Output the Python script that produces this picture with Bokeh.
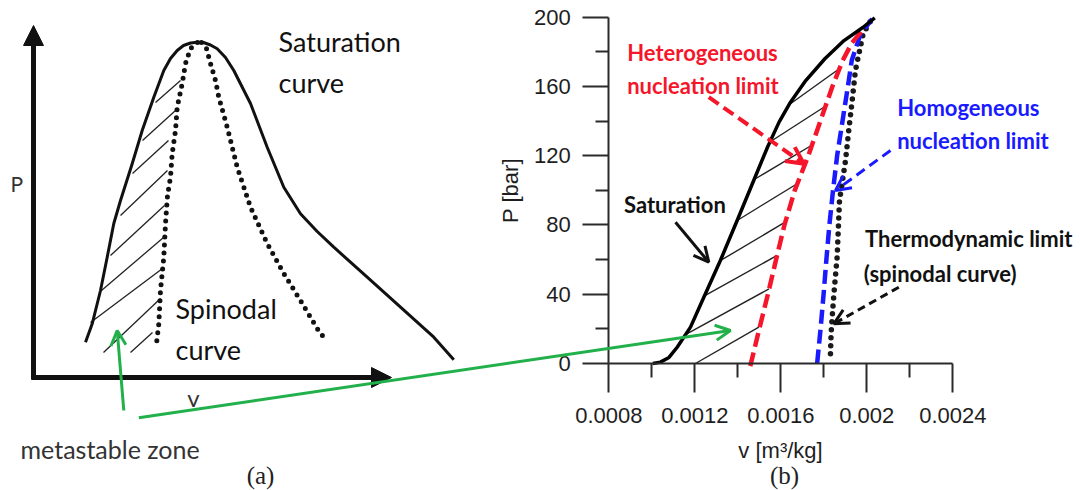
import numpy as np
from bokeh.plotting import figure
from bokeh.models import (Range1d, LinearAxis, FixedTicker, NumeralTickFormatter,
                          Label, Arrow, OpenHead, NormalHead)
from bokeh.embed import file_html
from bokeh.resources import INLINE

# ---------------- panel (b) data: v [m3/kg], P [bar] ----------------
sat_v = [0.001005, 0.001040, 0.001080, 0.001118, 0.001180, 0.001242, 0.001319, 0.001397,
         0.001474, 0.001538, 0.001592, 0.001645, 0.001716, 0.001805, 0.001894, 0.001983, 0.002037]
sat_P = [0.0, 0.8, 3.5, 9.4, 21.0, 38.3, 59.5, 82.6,
         105.7, 124.9, 139.4, 150.9, 163.4, 176.0, 186.5, 194.2, 199.6]

het_v = [0.001458, 0.001500, 0.001540, 0.001578, 0.001617, 0.001665, 0.001728, 0.001784,
         0.001840, 0.001888, 0.001930, 0.001990]
het_P = [-1.5, 20.0, 40.0, 60.0, 80.0, 100.0, 120.0, 140.0, 160.0, 175.0, 185.0, 194.0]

hom_v = [0.001769, 0.001785, 0.001799, 0.001812, 0.001826, 0.001843, 0.001862, 0.001887,
         0.001912, 0.001930, 0.001970, 0.002025]
hom_P = [0.0, 20.0, 40.0, 60.0, 80.0, 100.0, 120.0, 140.0, 160.0, 175.0, 190.0, 199.0]

spin_v = [0.001831, 0.001834, 0.001839, 0.001847, 0.001862, 0.001873, 0.001901, 0.001916,
          0.001932, 0.001947, 0.001983, 0.002019]
spin_P = [5.6, 17.2, 26.7, 40.3, 61.4, 94.1, 117.2, 134.6, 151.9, 169.2, 190.4, 198.1]

hatch_v0 = [0.001203, 0.001165, 0.001249, 0.001320, 0.001397, 0.001482, 0.001560, 0.001645]
hatch_P0 = [0.0, 17.2, 39.3, 59.5, 82.6, 106.7, 128.8, 150.0]
hatch_v1 = [0.001498, 0.001545, 0.001583, 0.001620, 0.001676, 0.001742, 0.001800, 0.001872]
hatch_P1 = [21.0, 43.1, 62.4, 81.6, 103.8, 125.9, 148.0, 170.2]

v_ticks = [0.0008, 0.0012, 0.0016, 0.002, 0.0024]
v_minor = [0.001, 0.0014, 0.0018, 0.0022]
p_ticks = [0, 40, 80, 120, 160, 200]
p_minor = [20, 60, 100, 140, 180]

# ---------------- panel (a) schematic (page pixel space) ----------------
a_sat_x = [85, 91.7, 100, 106.7, 113.3, 120, 131.7, 141.7, 153.3, 163.3, 170, 176.7, 183, 190, 196.7,
           203, 210, 216.7, 225, 233.3, 250, 266.7, 283.3, 300, 316.7, 333.3, 366.7, 400, 433.3, 453.3]
a_sat_y = [341.7, 323.3, 290, 256.7, 223, 200, 163.3, 130, 96.7, 70, 58, 50, 45, 42.5, 41.7,
           42, 44.5, 48.3, 57, 70, 103, 146.7, 186.7, 213.3, 231, 246.7, 276.7, 306.7, 336.7, 359.3]
a_spl_x = [197, 190, 185, 181.7, 176.7, 175, 171.7, 170, 167, 165, 163.3, 160, 158.3, 156]
a_spl_y = [42, 48, 63, 83, 106.7, 130, 153, 176.7, 195, 223, 256.7, 290, 323.3, 343]
a_spr_x = [201, 206, 210, 215, 218.3, 226.7, 236.7, 250, 266.7, 283.3, 300, 316.7, 324]
a_spr_y = [42, 48, 63, 80, 96.7, 126.7, 166.7, 206.7, 243, 273, 300, 328, 338]
a_hatch_x0 = [130, 103, 90, 101, 110, 120, 132, 142, 155]
a_hatch_y0 = [352, 352, 322, 290, 255, 215, 173, 140, 102]
a_hatch_x1 = [152, 160, 162, 163, 164, 167, 168, 175, 180]
a_hatch_y1 = [332, 298, 268, 237, 205, 170, 140, 110, 80]

RED = "#f5162b"
BLUE = "#1a1aff"
GREEN = "#22b04b"
INK = "#111111"

# ---------------- canvas / range mapping ----------------
W, H = 1080, 490
PAGE_L, PAGE_T = 0, 0
PAGE_R, PAGE_B = PAGE_L + W, PAGE_T + H
X_AT_VLO, X_AT_VHI = 608.3, 952.3     # page x of v=0.0008 / 0.0024
Y_AT_PLO, Y_AT_PHI = 363.0, 16.7      # page y of P=0 / 200
V_LO, V_HI, P_LO, P_HI = 0.0008, 0.0024, 0.0, 200.0
kx = (V_HI - V_LO) / (X_AT_VHI - X_AT_VLO)
ky = (P_HI - P_LO) / (Y_AT_PLO - Y_AT_PHI)

x_range = Range1d(V_LO - (X_AT_VLO - PAGE_L) * kx, V_HI + (PAGE_R - X_AT_VHI) * kx)
y_range = Range1d(P_LO - (PAGE_B - Y_AT_PLO) * ky, P_HI + (Y_AT_PHI - PAGE_T) * ky)

p = figure(width=W, height=H, x_range=x_range, y_range=y_range,
           output_backend="svg", toolbar_location=None,
           x_axis_location=None, y_axis_location=None, min_border=0,
           outline_line_color=None, background_fill_color="white",
           border_fill_color="white")
for g in p.grid:
    g.visible = False
p.extra_x_ranges = {"px": Range1d(PAGE_L, PAGE_R)}
p.extra_y_ranges = {"px": Range1d(PAGE_B, PAGE_T)}
PX = dict(x_range_name="px", y_range_name="px")

# ---------------- axes of panel (b) ----------------
AX_COL = "#2b2b2b"
yaxis = LinearAxis(fixed_location=V_LO, bounds=(P_LO, P_HI),
                   ticker=FixedTicker(ticks=p_ticks, minor_ticks=p_minor),
                   axis_label="P [bar]")
xaxis = LinearAxis(fixed_location=P_LO, bounds=(V_LO, V_HI),
                   ticker=FixedTicker(ticks=v_ticks, minor_ticks=v_minor),
                   formatter=NumeralTickFormatter(format="0.[0000]"),
                   axis_label="v [m³/kg]")
for ax, mt, nt, ls, als in ((yaxis, 26, 13, 12, 8), (xaxis, 29, 14, 15, 12)):
    ax.axis_line_color = AX_COL
    ax.axis_line_width = 2
    ax.major_tick_line_color = AX_COL
    ax.major_tick_line_width = 2
    ax.minor_tick_line_color = AX_COL
    ax.minor_tick_line_width = 2
    ax.major_tick_in = 0
    ax.minor_tick_in = 0
    ax.major_tick_out = mt
    ax.minor_tick_out = nt
    ax.major_label_standoff = ls
    ax.axis_label_standoff = als
    ax.major_label_text_font = "Liberation Sans"
    ax.major_label_text_font_size = "22px"
    ax.major_label_text_color = "#1e1e1e"
    ax.axis_label_text_font = "Liberation Sans"
    ax.axis_label_text_font_size = "22px"
    ax.axis_label_text_font_style = "normal"
    ax.axis_label_text_color = "#1e1e1e"
p.add_layout(yaxis, "left")
p.add_layout(xaxis, "below")

# ---------------- panel (b) curves ----------------
p.segment(hatch_v0, hatch_P0, hatch_v1, hatch_P1, line_width=1.4, line_color="#222222")
p.line(spin_v, spin_P, line_width=5.5, line_color="#1a1a1a", line_dash="0 8", line_cap="round")
p.line(hom_v, hom_P, line_width=4.5, line_color=BLUE, line_dash="14 6")
p.line(het_v, het_P, line_width=4.5, line_color=RED, line_dash="14 6")
p.line(sat_v, sat_P, line_width=3.5, line_color="black", line_join="round")

# ---------------- panel (a) schematic ----------------
p.segment(a_hatch_x0, a_hatch_y0, a_hatch_x1, a_hatch_y1, line_width=1.3, line_color="#222222", **PX)
p.line(a_sat_x, a_sat_y, line_width=3, line_color=INK, line_join="round", **PX)
p.line(a_spl_x, a_spl_y, line_width=5, line_color=INK, line_dash="0 8", line_cap="round", **PX)
p.line(a_spr_x, a_spr_y, line_width=5, line_color=INK, line_dash="0 8", line_cap="round", **PX)

p.add_layout(Arrow(end=NormalHead(size=20, fill_color=INK, line_color=INK), x_start=33, y_start=379,
                   x_end=33, y_end=25, line_width=5, line_color=INK, **PX))
p.add_layout(Arrow(end=NormalHead(size=20, fill_color=INK, line_color=INK), x_start=31, y_start=377,
                   x_end=391, y_end=377, line_width=5, line_color=INK, **PX))

# ---------------- arrows ----------------
def arrow(x0, y0, x1, y1, color, width, dash="solid", size=15):
    p.add_layout(Arrow(end=OpenHead(size=size, line_color=color, line_width=width),
                       x_start=x0, y_start=y0, x_end=x1, y_end=y1,
                       line_color=color, line_width=width, line_dash=dash, **PX))

arrow(123.3, 410, 116.7, 330, GREEN, 3)
arrow(138.3, 417.3, 730, 330, GREEN, 3)
arrow(708.3, 96.7, 803.3, 163.3, RED, 4, "12 6", 17)
arrow(890, 150, 835, 190, BLUE, 3, "10 6", 15)
arrow(675, 221.7, 708.3, 261.7, INK, 3, "solid", 15)
arrow(898.3, 286.7, 833.3, 323.3, INK, 3, "8 5", 15)

# ---------------- texts ----------------
def label(x, y, text, size, color=INK, font="Lato", style="normal", align="left"):
    p.add_layout(Label(x=x, y=y, text=text, text_font=font, text_font_size=size,
                       text_font_style=style, text_color=color, text_align=align,
                       text_baseline="alphabetic", **PX))

label(278, 40.7, "Saturation", "27px")
label(278, 81.7, "curve", "27px")
label(175, 308.3, "Spinodal", "27px")
label(175, 349.3, "curve", "27px")
label(20, 448.3, "metastable zone", "25px", color="#333333")
label(10, 183.3, "P", "21px", color="#333333")
label(186.7, 397, "v", "24px", color="#333333")
label(260, 475, "(a)", "25px", color="#222222", font="Liberation Serif", align="center")
label(784, 475, "(b)", "25px", color="#222222", font="Liberation Serif", align="center")

label(626.7, 51.7, "Heterogeneous", "22px", color=RED, style="bold")
label(626.7, 85, "nucleation limit", "22px", color=RED, style="bold")
label(896.7, 107.3, "Homogeneous", "22px", color=BLUE, style="bold")
label(896.7, 140, "nucleation limit", "22px", color=BLUE, style="bold")
label(623.5, 204, "Saturation", "22px", style="bold")
label(864.6, 238.3, "Thermodynamic limit", "22px", style="bold")
label(863.3, 273.3, "(spinodal curve)", "22px", style="bold")

open("out.html", "w").write(file_html(p, INLINE))
